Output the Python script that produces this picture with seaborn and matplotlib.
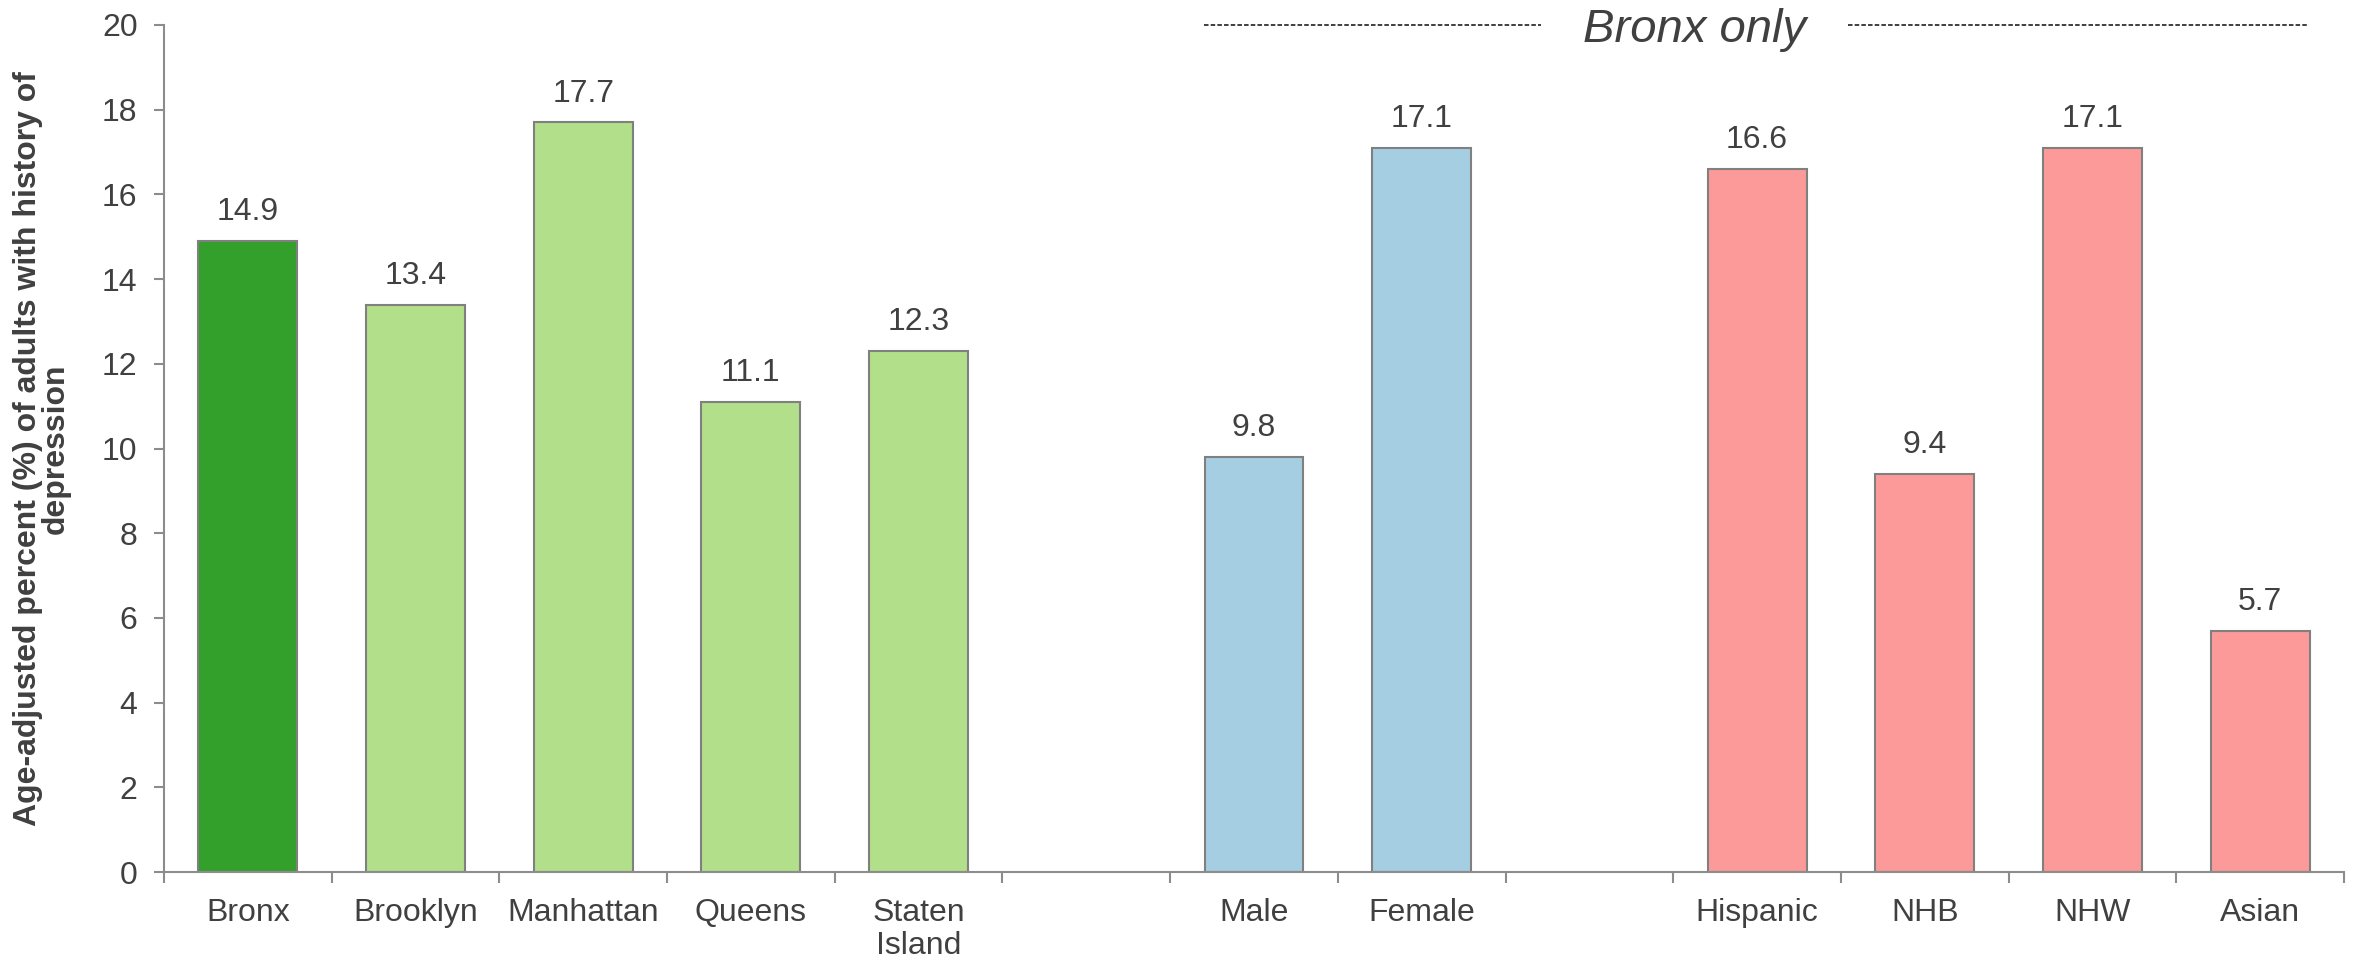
import matplotlib
matplotlib.use("Agg")
import matplotlib.pyplot as plt
import matplotlib.transforms as mtransforms
import numpy as np
import pandas as pd
import seaborn as sns

# Data
categories = ["Bronx", "Brooklyn", "Manhattan", "Queens", "Staten\nIsland",
              "Male", "Female",
              "Hispanic", "NHB", "NHW", "Asian"]
values = [14.9, 13.4, 17.7, 11.1, 12.3,
          9.8, 17.1,
          16.6, 9.4, 17.1, 5.7]
bar_colors = ["#33a02c", "#b2df8a", "#b2df8a", "#b2df8a", "#b2df8a",
              "#a6cee3", "#a6cee3",
              "#fb9a99", "#fb9a99", "#fb9a99", "#fb9a99"]
# Slot order with two empty spacer slots between groups
order = ["Bronx", "Brooklyn", "Manhattan", "Queens", "Staten\nIsland", "gap1",
         "Male", "Female", "gap2",
         "Hispanic", "NHB", "NHW", "Asian"]
y_ticks = [0, 2, 4, 6, 8, 10, 12, 14, 16, 18, 20]
y_label = "Age-adjusted percent (%) of adults with history of\ndepression"
bronx_only = "Bronx only"

df = pd.DataFrame({"category": categories, "value": values})
palette = dict(zip(categories, bar_colors))

sns.set_theme(style="white")
plt.rcParams["font.family"] = ["Liberation Sans", "DejaVu Sans"]

text_color = "#404040"
axis_color = "#8c8c8c"

fig = plt.figure(figsize=(23.59, 9.60), dpi=100)
ax = fig.add_axes([164 / 2359, 88 / 960, 2180 / 2359, 847 / 960])

sns.barplot(data=df, x="category", y="value", hue="category", order=order,
            palette=palette, saturation=1, legend=False, width=0.59,
            edgecolor="#808080", linewidth=1.5, ax=ax)

# Value labels above each bar
for cat, val in zip(categories, values):
    xpos = order.index(cat)
    ax.annotate(f"{val:.1f}", xy=(xpos, val), xytext=(0, 10),
                textcoords="offset points", ha="center", va="bottom",
                fontsize=23, color=text_color)

ax.set_xlim(-0.5, len(order) - 0.5)
ax.set_ylim(0, 20)
ax.set_yticks(y_ticks)
ax.set_yticklabels([str(t) for t in y_ticks])

# Category labels centred, tick marks on slot boundaries
ax.set_xticks(range(len(order)))
ax.set_xticklabels([c if not c.startswith("gap") else "" for c in order],
                   linespacing=1.1)
ax.set_xticks(np.arange(-0.5, len(order)), minor=True)
ax.tick_params(axis="x", which="major", length=0, pad=19,
               labelsize=23, labelcolor=text_color)
ax.tick_params(axis="x", which="minor", bottom=True, length=8, width=1.5,
               color=axis_color, direction="out")
ax.tick_params(axis="y", which="major", left=True, length=7, width=1.5,
               color=axis_color, direction="out", pad=12,
               labelsize=23, labelcolor=text_color)

ax.set_xlabel("")
ax.set_ylabel(y_label, fontsize=23, fontweight="bold", color=text_color,
              linespacing=0.9)
ax.yaxis.set_label_coords(-0.043, 0.5)

for side in ["top", "right"]:
    ax.spines[side].set_visible(False)
for side in ["left", "bottom"]:
    ax.spines[side].set_color(axis_color)
    ax.spines[side].set_linewidth(1.5)

# "Bronx only" header with dashed leader lines
trans = mtransforms.blended_transform_factory(ax.transData, ax.transAxes)
ax.plot([5.70, 7.71], [1.0, 1.0], transform=trans, color="#303030",
        linestyle=(0, (2.5, 1.2)), linewidth=1.3, clip_on=False)
ax.plot([9.54, 12.29], [1.0, 1.0], transform=trans, color="#303030",
        linestyle=(0, (2.5, 1.2)), linewidth=1.3, clip_on=False)
ax.text(8.63, 0.994, bronx_only, transform=trans, ha="center", va="center",
        fontsize=34, fontstyle="italic", color=text_color)

fig.savefig("out.png", dpi=100, facecolor="white")
